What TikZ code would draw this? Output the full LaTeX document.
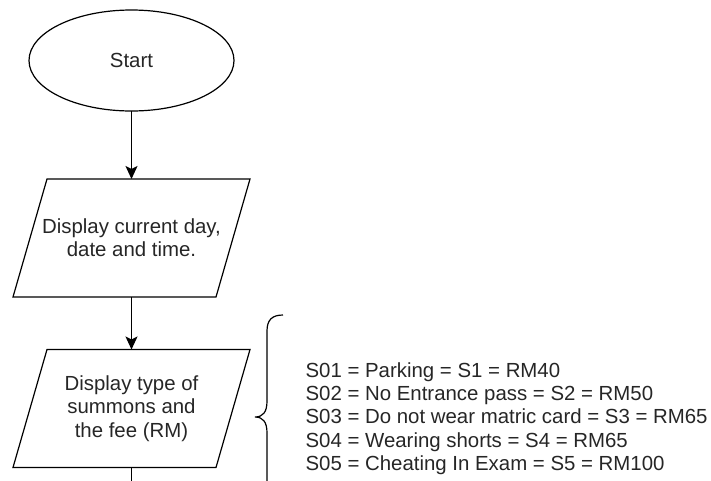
\documentclass[tikz,border=0pt]{standalone}
\usepackage{fontspec}
\setmainfont{Liberation Sans}
\usetikzlibrary{positioning, shapes.geometric, arrows.meta}

\begin{document}
\begin{tikzpicture}[x=1pt, y=-1pt, line width=1.2pt,
	every node/.style={font=\fontsize{20.4}{23.3}\selectfont, text=black!85},
	terminal/.style={draw, ellipse, minimum width=205pt, minimum height=101pt, inner sep=0pt, outer sep=0pt},
	inout/.style={minimum width=203pt, minimum height=118pt, inner sep=0pt, outer sep=0pt, align=center},
	flow/.style={-{Stealth[length=13pt, width=12pt, inset=3pt]}}]
			\clip	(0, 0) rectangle (711, 480);
			\node	(start)	at	(131.5, 60.5)	[terminal]	{Start};
			\node	(dsp1)	at	(131.5, 238)	[inout]		{Display current day,\\date and time.};
			\node	(dsp2)	at	(131.5, 408.5)	[inout]		{Display type of\\summons and\\the fee (RM)};
			\coordinate	(next)	at	(131.5, 495);

			% slanted input/output boxes
			\foreach \b in {dsp1, dsp2}
				\draw	([xshift=17pt]\b.north west) -- ([xshift=17pt]\b.north east)
						-- ([xshift=-17pt]\b.south east) -- ([xshift=-17pt]\b.south west) -- cycle;

			\draw	[flow]	(start)	--	(dsp1);
			\draw	[flow]	(dsp1)	--	(dsp2);
			\draw	(dsp2)	--	(next);

			% brace next to the summons list
			\draw	(283, 315) .. controls (272, 315) and (267, 320) .. (267, 331) -- (267, 401)
					.. controls (267, 412) and (263, 417) .. (255, 417)
					.. controls (263, 417) and (267, 422) .. (267, 433) -- (267, 503)
					.. controls (267, 514) and (272, 519) .. (283, 519);
			\node	(fees)	at	(305, 418.5)	[anchor=west, align=left, inner sep=0pt]
					{S01 = Parking = S1 = RM40\\
					 S02 = No Entrance pass = S2 = RM50\\
					 S03 = Do not wear matric card = S3 = RM65\\
					 S04 = Wearing shorts = S4 = RM65\\
					 S05 = Cheating In Exam = S5 = RM100};
		\end{tikzpicture}
\end{document}
